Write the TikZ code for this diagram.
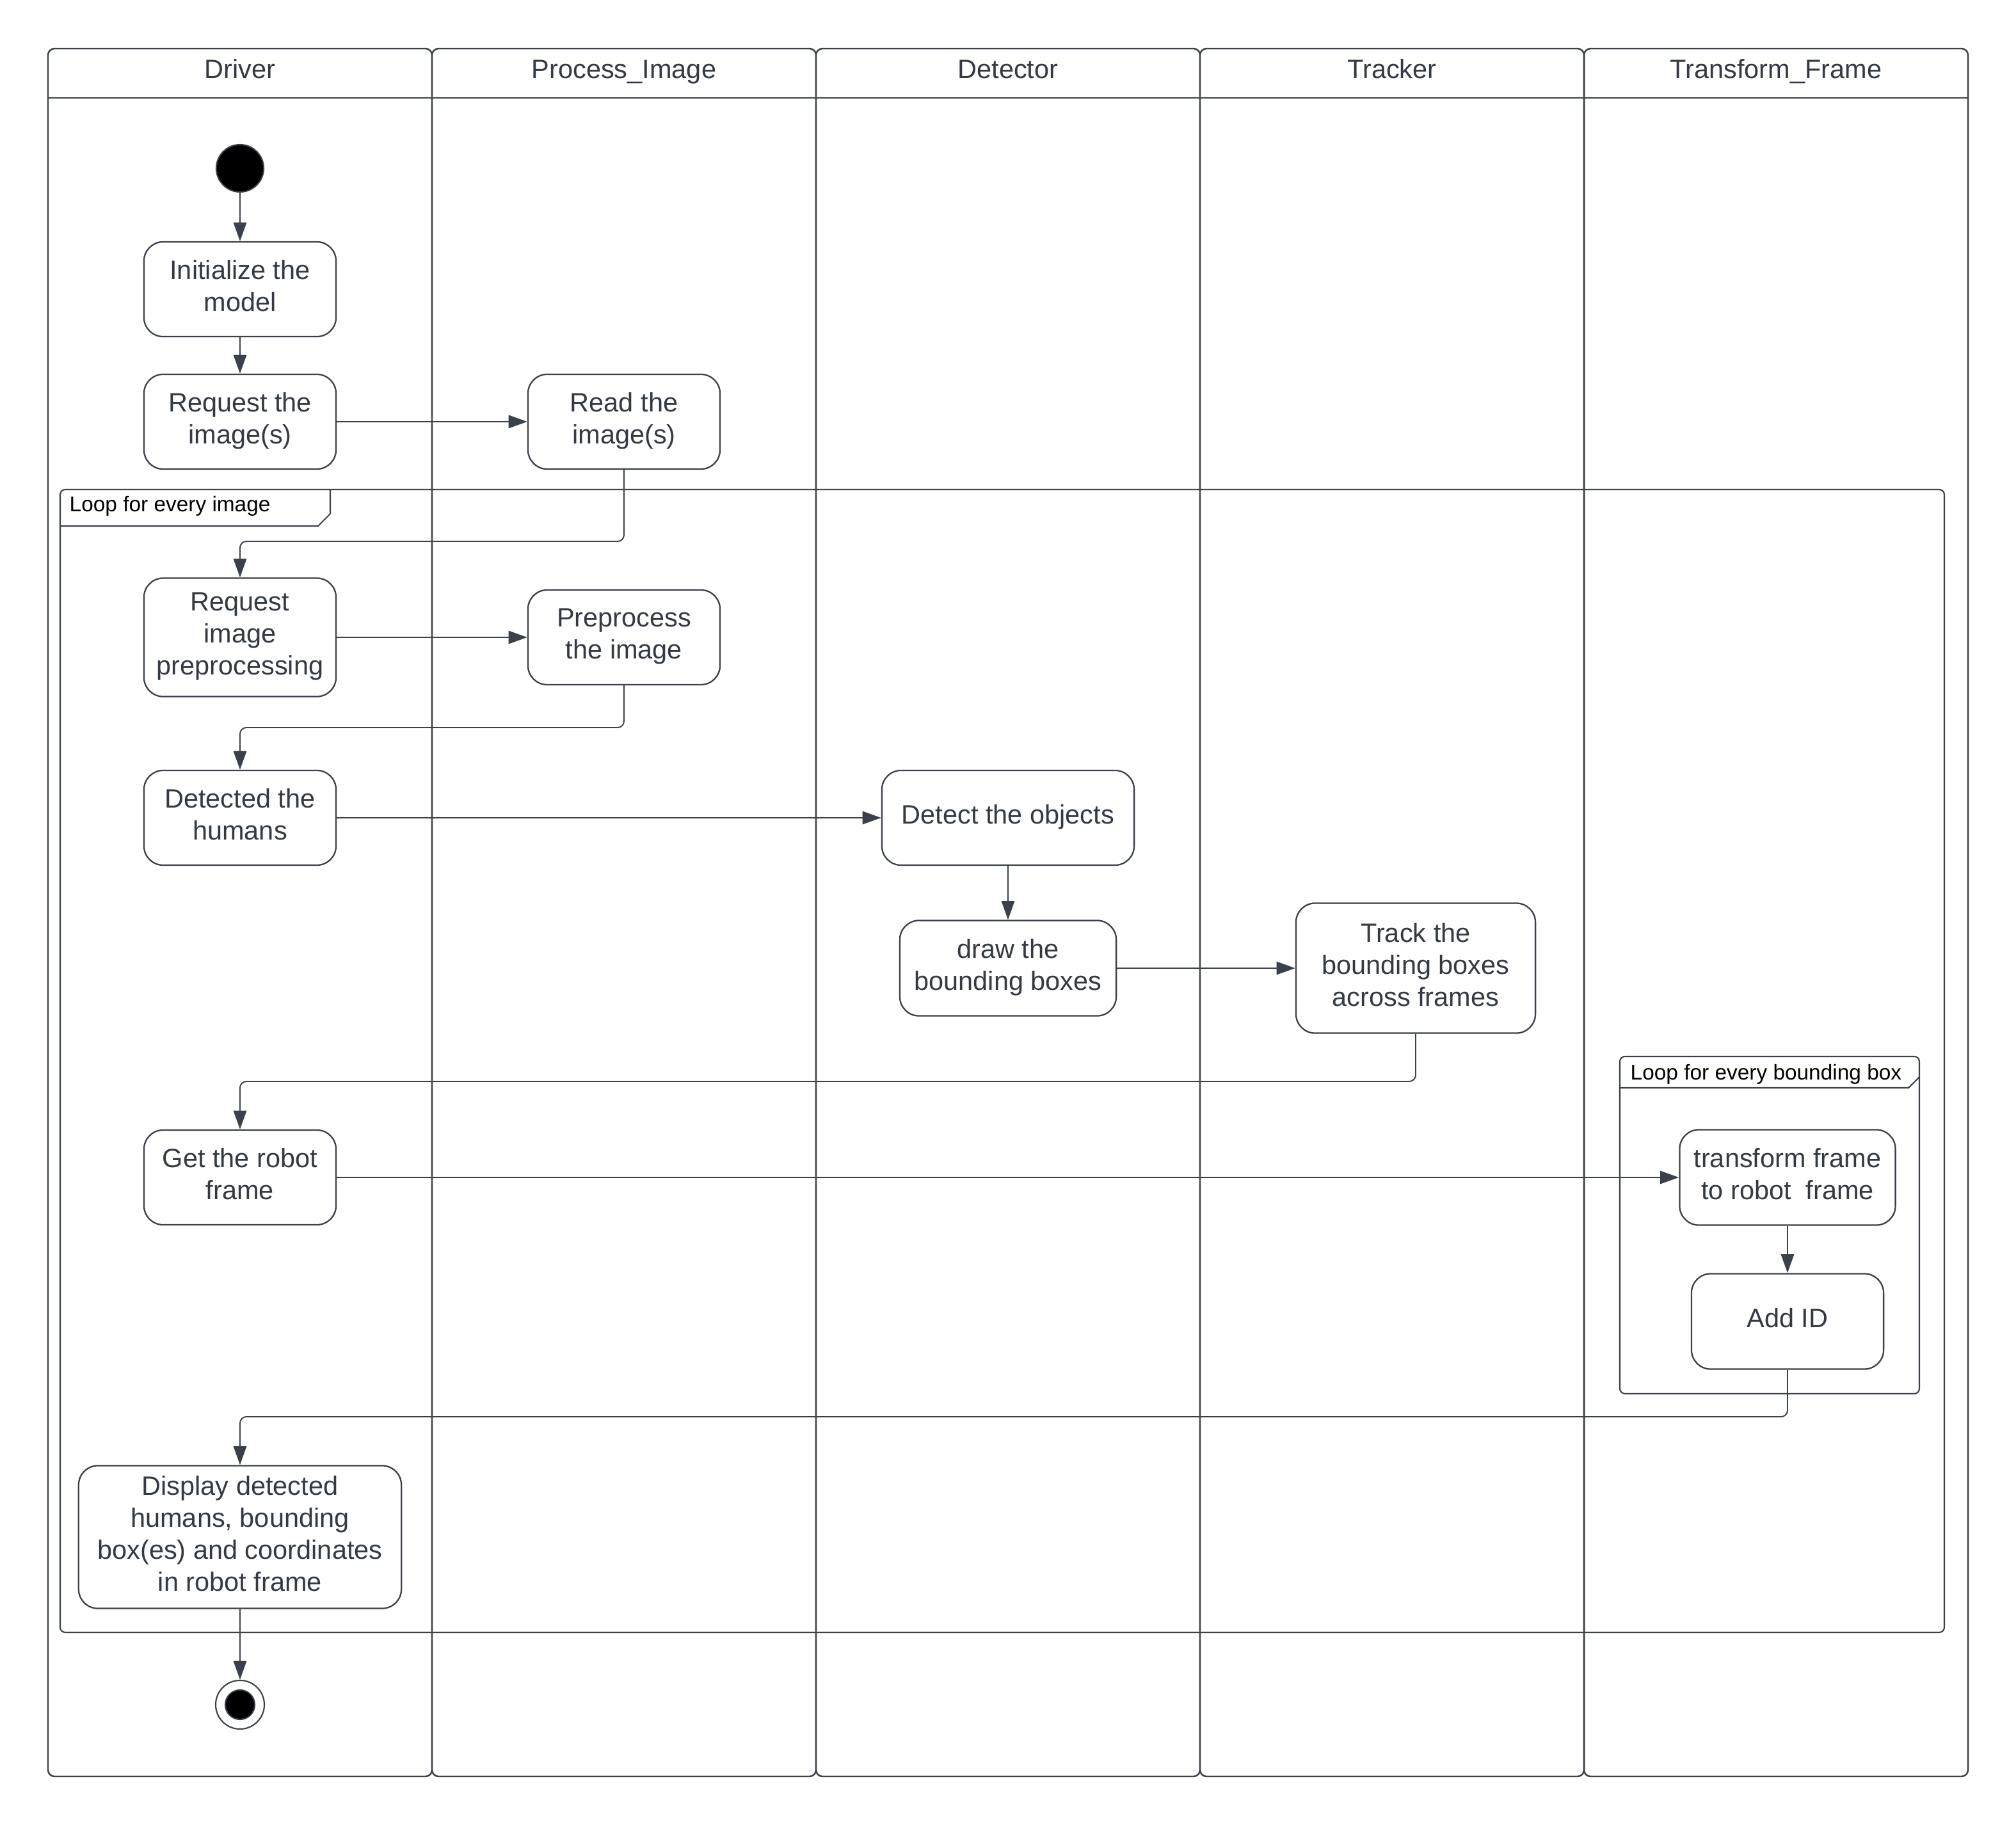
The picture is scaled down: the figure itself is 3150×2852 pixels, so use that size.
\documentclass[tikz,border=0pt]{standalone}
\usepackage{fontspec}
\setmainfont{Liberation Sans}
\usetikzlibrary{arrows.meta}
\definecolor{ink}{RGB}{58,65,74}
\definecolor{txt}{RGB}{51,58,68}

\begin{document}
\begin{tikzpicture}[x=0.01cm,y=-0.01cm,
  act/.style={draw=ink, line width=0.65pt, fill=white, rounded corners=0.3cm,
    align=center, text=txt, font=\fontsize{11.8}{14.2}\selectfont, inner sep=0pt,
    text depth=3.3pt, minimum width=3cm, minimum height=1.48cm},
  flow/.style={draw=ink, line width=0.55pt, rounded corners=0.1cm,
    -{Triangle[length=8.3pt,width=5.8pt]}},
  lane/.style={draw=ink, line width=0.7pt, rounded corners=0.1cm},
  lanetitle/.style={text=txt, font=\fontsize{11.8}{14.2}\selectfont, anchor=base, inner sep=0pt},
  frame/.style={draw=ink, line width=0.6pt, rounded corners=0.08cm},
  tabline/.style={draw=ink, line width=0.6pt},
  framelabel/.style={anchor=base west, font=\fontsize{9.5}{11}\selectfont, text=black, inner sep=0pt},
]
\useasboundingbox[fill=white] (0,0) rectangle (3150,2852);

% swimlanes
\foreach \i/\lname in {0/Driver,1/Process\_Image,2/Detector,3/Tracker,4/Transform\_Frame} {
  \draw[lane] (75+600*\i,76) rectangle (675+600*\i,2776);
  \draw[ink, line width=0.7pt] (75+600*\i,153) -- (675+600*\i,153);
  \node[lanetitle] (lane\i) at (375+600*\i,123) {\lname};
}

% outer loop frame
\draw[frame] (94,765) rectangle (3038,2551);
\draw[tabline] (94,822) -- (497,822) -- (516,803) -- (516,765);
\node[framelabel] (loopimg) at (108,800) {Loop for every image};

% inner loop frame
\draw[frame] (2531,1651) rectangle (2999,2178);
\draw[tabline] (2531,1700) -- (2982,1700) -- (2999,1683);
\node[framelabel] (loopbox) at (2547,1687) {Loop for every bounding box};

% start and end
\node[circle, fill=black, draw=ink, line width=0.6pt, minimum size=0.74cm, inner sep=0pt] (start) at (375,263) {};
\node[circle, fill=white, draw=ink, line width=0.6pt, minimum size=0.76cm, inner sep=0pt] (stop) at (375,2664) {};
\node[circle, fill=black, draw=ink, line width=0.6pt, minimum size=0.46cm, inner sep=0pt] (stopdot) at (stop) {};

% actions
\node[act] (init) at (375,452) {Initialize the\\model};
\node[act] (reqimg) at (375,659) {Request the\\image(s)};
\node[act] (readimg) at (975,659) {Read the\\image(s)};
\node[act, minimum height=1.85cm] (reqpre) at (375,996) {Request\\image\\preprocessing};
\node[act] (prep) at (975,996) {Preprocess\\the image};
\node[act] (humans) at (375,1278) {Detected the\\humans};
\node[act, minimum width=3.94cm] (detect) at (1575,1278) {Detect the objects};
\node[act, minimum width=3.38cm, minimum height=1.49cm] (drawbb) at (1575,1513) {draw the\\bounding boxes};
\node[act, minimum width=3.74cm, minimum height=2.03cm] (track) at (2212,1513) {Track the\\bounding boxes\\across frames};
\node[act] (robot) at (375,1840) {Get the robot\\frame};
\node[act, minimum width=3.37cm, minimum height=1.49cm] (tf) at (2793,1840) {transform frame\\to robot\ \ frame};
\node[act, minimum height=1.49cm] (addid) at (2793,2065) {Add ID};
\node[act, minimum width=5.04cm, minimum height=2.23cm] (disp) at (375,2402) {Display detected\\humans, bounding\\box(es) and coordinates\\in robot frame};

% elbow heights
\coordinate (e1) at (0,846);
\coordinate (e2) at (0,1137);
\coordinate (e3) at (0,1690);
\coordinate (e4) at (0,2214);

% control flow
\draw[flow] (start) -- (init);
\draw[flow] (init) -- (reqimg);
\draw[flow] (reqimg) -- (readimg);
\draw[flow] (readimg.south) |- (e1 -| reqpre.north) -- (reqpre.north);
\draw[flow] (reqpre) -- (prep);
\draw[flow] (prep.south) |- (e2 -| humans.north) -- (humans.north);
\draw[flow] (humans) -- (detect);
\draw[flow] (detect) -- (drawbb);
\draw[flow] (drawbb) -- (track);
\draw[flow] (track.south) |- (e3 -| robot.north) -- (robot.north);
\draw[flow] (robot) -- (tf);
\draw[flow] (tf) -- (addid);
\draw[flow] (addid.south) |- (e4 -| disp.north) -- (disp.north);
\draw[flow] (disp) -- (stop);
\end{tikzpicture}
\end{document}
